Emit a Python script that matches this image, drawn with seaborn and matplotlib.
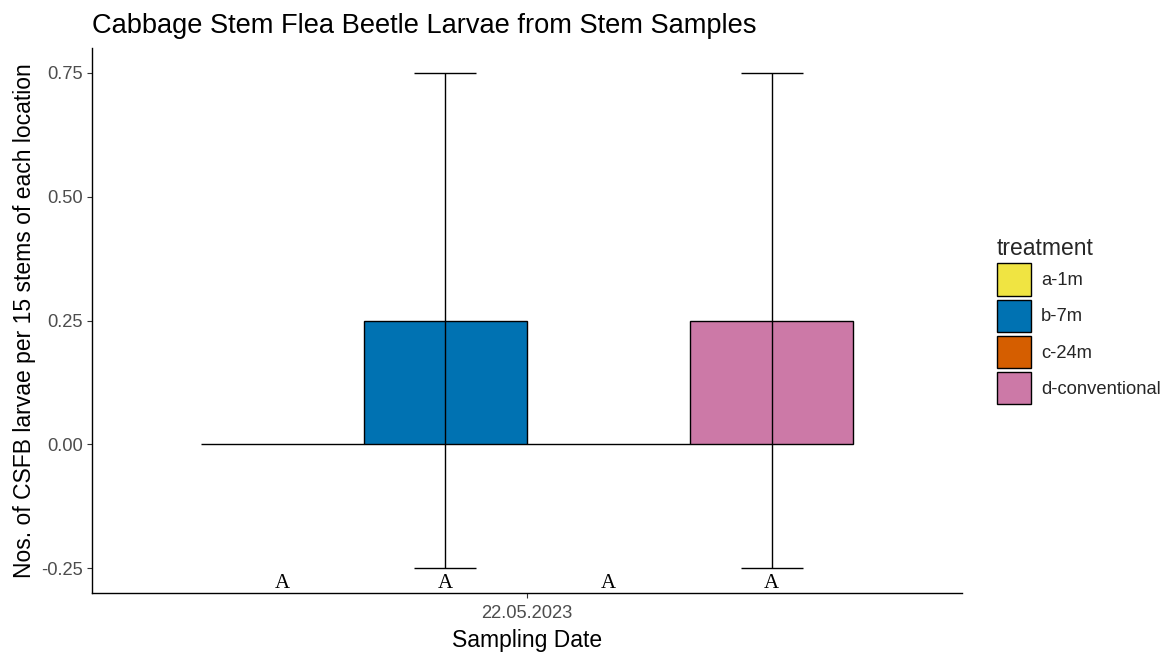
import matplotlib
matplotlib.use("Agg")
import matplotlib.pyplot as plt
import seaborn as sns
import pandas as pd

# Stem sample results (mean larvae per 15 stems, with standard error)
sampling_dates = ["22.05.2023"]
treatments = ["a-1m", "b-7m", "c-24m", "d-conventional"]
mean_larvae = [0.0, 0.25, 0.0, 0.25]
se_larvae = [0.0, 0.5, 0.0, 0.5]
group_letters = ["A", "A", "A", "A"]
treatment_colors = ["#F0E442", "#0072B2", "#D55E00", "#CC79A7"]

df = pd.DataFrame({
    "date": sampling_dates * len(treatments),
    "treatment": treatments,
    "mean": mean_larvae,
    "se": se_larvae,
    "letter": group_letters,
})

sns.set_theme(style="ticks")
plt.rcParams["font.family"] = ["Liberation Sans", "DejaVu Sans"]

fig = plt.figure(figsize=(11.73, 6.55), dpi=100)
ax = fig.add_axes([92 / 1173, 1 - 593 / 655, (962 - 92) / 1173, (593 - 48) / 655])

sns.barplot(
    data=df, x="date", y="mean", hue="treatment", hue_order=treatments,
    palette=treatment_colors, saturation=1, edgecolor="black", linewidth=1.0,
    width=0.9, errorbar=None, ax=ax,
)

# Error bars and significance letters centred on each bar
for container, (_, row) in zip(ax.containers, df.iterrows()):
    bar = container.patches[0]
    xc = bar.get_x() + bar.get_width() / 2
    if row["se"] > 0:
        ax.errorbar(xc, row["mean"], yerr=row["se"], fmt="none", ecolor="black",
                    elinewidth=1.0, capsize=22, capthick=1.0, zorder=3)
    ax.text(xc, -0.3, row["letter"], ha="center", va="bottom",
            family=["Liberation Serif", "DejaVu Serif"], fontsize=15,
            color="black")

ax.set_xlim(-0.6, 0.6)
ax.set_ylim(-0.3, 0.8)
ax.set_yticks([-0.25, 0.0, 0.25, 0.5, 0.75])
ax.set_yticklabels(["-0.25", "0.00", "0.25", "0.50", "0.75"])

for side in ("top", "right"):
    ax.spines[side].set_visible(False)
for side in ("left", "bottom"):
    ax.spines[side].set_color("black")
    ax.spines[side].set_linewidth(1.0)

ax.tick_params(axis="both", length=3.5, width=0.8, color="#333333",
               labelcolor="#4D4D4D", labelsize=13.2, pad=3)
ax.tick_params(axis="x", pad=5)

ax.set_xlabel("Sampling Date", fontsize=16.5, color="black", labelpad=5)
ax.set_ylabel("Nos. of CSFB larvae per 15 stems of each location",
              fontsize=16.5, color="black", labelpad=4)
ax.set_title("Cabbage Stem Flea Beetle Larvae from Stem Samples",
             loc="left", fontsize=19.6, color="black", pad=11)

leg = ax.legend(title="treatment", loc="center left",
                bbox_to_anchor=(1.021, 0.5), frameon=False,
                handlelength=1.86, handleheight=2.35, labelspacing=0.2,
                handletextpad=0.55, fontsize=13.2, title_fontsize=16.5)
leg._legend_box.align = "left"
for h in leg.legend_handles:
    h.set_edgecolor("black")
    h.set_linewidth(1.0)

fig.savefig("out.png", dpi=100)
